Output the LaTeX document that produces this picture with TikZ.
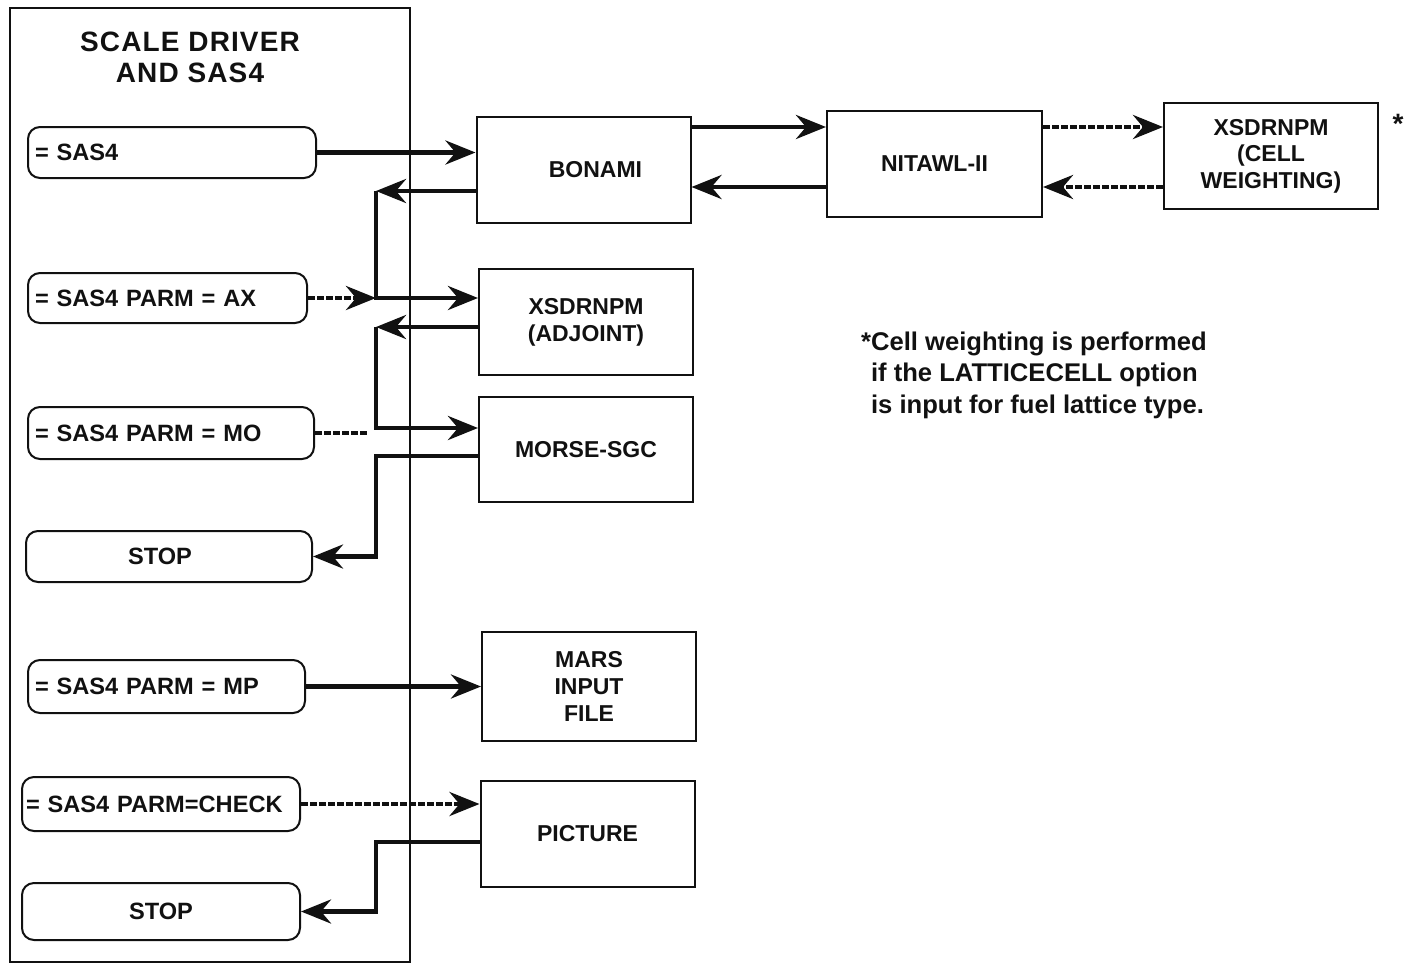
\documentclass[tikz,border=0pt]{standalone}
\usepackage{fontspec}
\setmainfont{Liberation Sans}
\usetikzlibrary{arrows.meta,calc}
\definecolor{FlowInk}{HTML}{111111}

\begin{document}
\begin{tikzpicture}[x=0.5pt,y=-0.5pt,FlowInk,
  cmd/.style={draw,line width=1pt,rounded corners=6pt,inner xsep=3.5pt,align=left,font=\fontsize{11.8}{13}\bfseries},
  prog/.style={draw,line width=1pt,align=center,minimum width=107pt,minimum height=53pt,font=\fontsize{11.5}{13.5}\bfseries},
  flow/.style={line width=2.3pt,-{Stealth[length=15pt,width=12pt,inset=5pt]}},
  dflow/.style={flow,dash pattern=on 3.5pt off 1pt}]
  \useasboundingbox (0,0) rectangle (1407,964);
  \node[draw,line width=0.8pt,minimum width=200pt,minimum height=477pt] (driver) at (210,485) {};
  \node[align=center,font=\fontsize{14}{15.5}\bfseries\addfontfeatures{LetterSpace=4}] (title) at (190,57) {SCALE DRIVER\\AND SAS4};
  \coordinate (bus) at (376,0);

  \node[cmd,text width=137pt,minimum height=25.5pt] (sasfour) at (172,152.5) {= SAS4};
  \node[cmd,text width=132.5pt,minimum height=25pt] (ax) at (167.5,298) {= SAS4 PARM = AX};
  \node[cmd,text width=136pt,minimum height=26pt] (mo) at (171,433) {= SAS4 PARM = MO};
  \node[cmd,align=center,text width=136pt,minimum height=25.5pt] (stopA) at (169,556.5) {STOP\hspace*{9pt}};
  \node[cmd,text width=131.5pt,minimum height=26.5pt] (mp) at (166.5,686.5) {= SAS4 PARM = MP};
  \node[cmd,inner xsep=2pt,text width=135pt,minimum height=27pt] (check) at (161,804) {= SAS4 PARM=CHECK};
  \node[cmd,align=center,text width=132pt,minimum height=28.5pt] (stopB) at (161,911.5) {STOP};

  \node[prog] (bonami) at (583.5,170) {\hspace*{12pt}BONAMI};
  \node[prog] (adjoint) at (586,322) {XSDRNPM\\(ADJOINT)};
  \node[prog,minimum height=52.5pt] (morse) at (586,449.5) {MORSE-SGC};
  \node[prog,minimum height=54.5pt] (mars) at (589,686.5) {MARS\\INPUT\\FILE};
  \node[prog] (picture) at (587.5,834) {PICTURE};
  \node[prog,minimum width=107.5pt] (nitawl) at (934.5,164) {NITAWL-II};
  \node[prog,font=\fontsize{11.5}{13.25}\bfseries] (cell) at (1271,156) {XSDRNPM\\(CELL\\WEIGHTING)};
  \node[font=\fontsize{14}{14}\bfseries] (star) at (1398,124) {*};
  \node[anchor=west,align=left,font=\fontsize{12.8}{15.75}\bfseries] (note) at (864,375) {\llap{*}Cell weighting is performed\\if the LATTICECELL option\\is input for fuel lattice type.};

  \draw[flow] (sasfour.east) -- (sasfour.east -| bonami.west);
  \draw[flow] ($(bonami.west)+(0,21)$) -- ($(bus |- bonami.west)+(0,21)$);
  \draw[flow] ($(bus |- bonami.west)+(0,21)$) -- ($(bus |- adjoint.west)+(0,-24)$) -- ($(adjoint.west)+(0,-24)$);
  \draw[dflow] (ax.east) -- (ax.east -| bus);
  \draw[flow] ($(adjoint.west)+(0,5)$) -- ($(bus |- adjoint.west)+(0,5)$);
  \draw[flow] ($(bus |- adjoint.west)+(0,5)$) -- ($(bus |- morse.west)+(0,-21.5)$) -- ($(morse.west)+(0,-21.5)$);
  \draw[dflow,-] (mo.east) -- ($(mo.east -| bus)+(-9,0)$);
  \draw[flow] ($(morse.west)+(0,6.5)$) -- ($(bus |- morse.west)+(0,6.5)$) -- (bus |- stopA.east) -- (stopA.east);
  \draw[flow] (mp.east) -- (mp.east -| mars.west);
  \draw[dflow] (check.east) -- (check.east -| picture.west);
  \draw[flow] ($(picture.west)+(0,8)$) -- ($(bus |- picture.west)+(0,8)$) -- (bus |- stopB.east) -- (stopB.east);
  \draw[flow] ($(bonami.east)+(0,-43)$) -- ($(bonami.east -| nitawl.west)+(0,-43)$);
  \draw[flow] ($(nitawl.west)+(0,23)$) -- ($(nitawl.west -| bonami.east)+(0,23)$);
  \draw[dflow] ($(nitawl.east)+(0,-37)$) -- ($(nitawl.east -| cell.west)+(0,-37)$);
  \draw[dflow] ($(cell.west)+(0,31)$) -- ($(cell.west -| nitawl.east)+(0,31)$);
\end{tikzpicture}
\end{document}
